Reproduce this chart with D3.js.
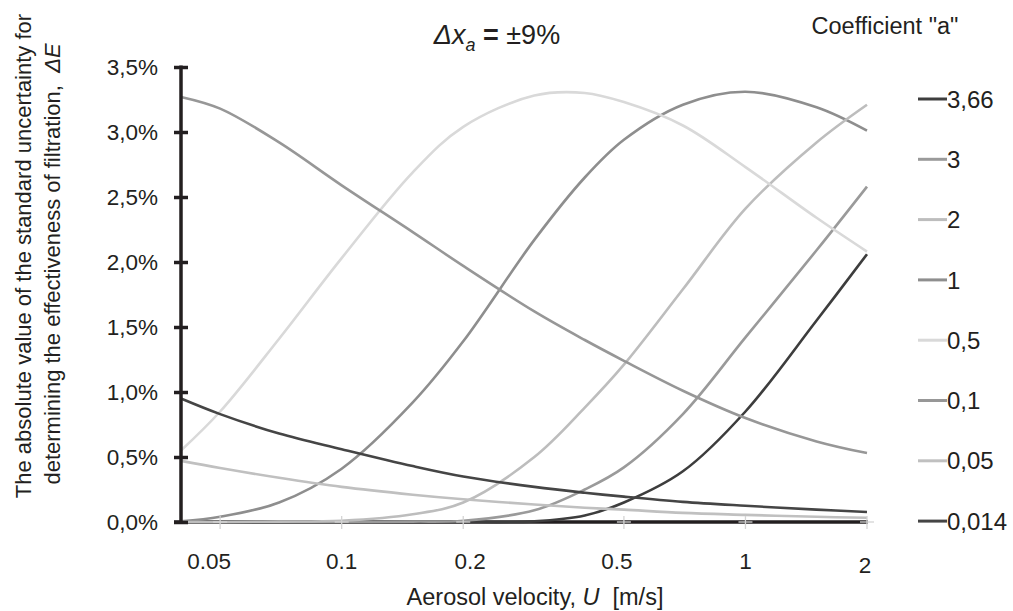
<!DOCTYPE html>
<html>
<head>
<meta charset="utf-8">
<script src="https://cdn.jsdelivr.net/npm/d3@7"></script>
<style>
  html, body { margin: 0; padding: 0; background: #fff; }
  svg { display: block; }
  text { font-family: "Liberation Sans", Arial, Helvetica, sans-serif; fill: #231f20; }
</style>
</head>
<body>
<svg id="chart" width="1013" height="611"></svg>
<script>
// ---- data ----
const velocity = [0.04, 0.05, 0.07, 0.1, 0.15, 0.2, 0.3, 0.4, 0.5, 0.7, 1, 1.5, 2];
const coefficients = ["3,66", "3", "2", "1", "0,5", "0,1", "0,05", "0,014"];
const a366  = [0, 0, 0, 0, 0, 0, 0.005, 0.05, 0.15, 0.39, 0.85, 1.55, 2.06];
const a3    = [0, 0, 0, 0, 0.003, 0.01, 0.09, 0.25, 0.42, 0.83, 1.42, 2.09, 2.58];
const a2    = [0, 0, 0.003, 0.01, 0.06, 0.15, 0.50, 0.88, 1.21, 1.79, 2.41, 2.92, 3.21];
const a1    = [0.005, 0.04, 0.15, 0.41, 0.92, 1.39, 2.17, 2.65, 2.94, 3.21, 3.31, 3.19, 3.01];
const a05   = [0.55, 0.85, 1.41, 2.03, 2.69, 3.04, 3.28, 3.30, 3.23, 3.05, 2.73, 2.34, 2.08];
const a01   = [3.27, 3.18, 2.92, 2.59, 2.23, 1.97, 1.62, 1.40, 1.24, 1.01, 0.80, 0.62, 0.53];
const a005  = [0.47, 0.415, 0.34, 0.27, 0.21, 0.175, 0.135, 0.11, 0.095, 0.07, 0.055, 0.04, 0.033];
const a0014 = [0.95, 0.83, 0.68, 0.56, 0.43, 0.35, 0.27, 0.225, 0.195, 0.155, 0.125, 0.095, 0.077];
const seriesValues = [a366, a3, a2, a1, a05, a01, a005, a0014];
const xTickValues = [0.05, 0.1, 0.2, 0.5, 1, 2];
const xTickLabels = ["0.05", "0.1", "0.2", "0.5", "1", "2"];
const yTickValues = [0, 0.5, 1, 1.5, 2, 2.5, 3, 3.5];

// ---- styles ----
const colors = ["#3d3d3d", "#9a9a9a", "#bdbdbd", "#8e8e8e", "#d9d9d9", "#979797", "#c0c0c0", "#454545"];
const drawOrder = [0, 1, 3, 2, 4, 5, 6, 7];
const axisColor = "#231f20";

const svg = d3.select("#chart");
const x = d3.scaleLog().domain([0.04, 2]).range([181, 867]);
const y = d3.scaleLinear().domain([0, 3.5]).range([522, 67]);

// x axis line (dark)
svg.append("line").attr("x1", 174).attr("x2", x(2) + 1).attr("y1", y(0)).attr("y2", y(0))
  .attr("stroke", axisColor).attr("stroke-width", 3.5);

// series
const line = d3.line().x(d => x(d[0])).y(d => Math.min(y(d[1]), y(0))).curve(d3.curveCatmullRom.alpha(0.5));
drawOrder.forEach(i => {
  const pts = velocity.map((u, k) => [u, seriesValues[i][k]]);
  svg.append("path").attr("d", line(pts)).attr("fill", "none")
    .attr("stroke", colors[i]).attr("stroke-width", 2.6).attr("stroke-linejoin", "round");
});

// x tick marks (light crosses)
const xt = svg.append("g");
xTickValues.forEach(v => {
  xt.append("line").attr("x1", x(v)).attr("x2", x(v)).attr("y1", y(0) - 6).attr("y2", y(0) + 7)
    .attr("stroke", "#d4d4d4").attr("stroke-width", 1.3);
  xt.append("line").attr("x1", x(v) - 7).attr("x2", x(v) + 7).attr("y1", y(0)).attr("y2", y(0))
    .attr("stroke", "#d4d4d4").attr("stroke-width", 1.3);
});

// y axis with crossing ticks
const yAxis = d3.axisLeft(y).tickValues(yTickValues).tickSize(0)
  .tickFormat(d => d3.format(".1f")(d).replace(".", ",") + "%");
const yg = svg.append("g").attr("transform", "translate(181,0)").call(yAxis);
yg.select(".domain").remove();
yg.selectAll(".tick text").attr("x", -23).attr("font-size", 22.5)
  .attr("font-family", "Liberation Sans, Arial, sans-serif").attr("fill", axisColor);
yg.selectAll(".tick").append("line").attr("x1", -7).attr("x2", 7)
  .attr("stroke", axisColor).attr("stroke-width", 3.5);
yg.append("line").attr("x1", 0).attr("x2", 0).attr("y1", y(3.5) - 1.5).attr("y2", y(0) + 1.5)
  .attr("stroke", axisColor).attr("stroke-width", 3.5);

// x tick labels
const labelNudge = { "0.05": -11, "0.2": 7, "0.5": -7, "2": -2 };
const labelDrop = { "2": 4 };
xTickValues.forEach((v, i) => {
  const lab = xTickLabels[i];
  svg.append("text").attr("x", x(v) + (labelNudge[lab] || 0)).attr("y", 569 + (labelDrop[lab] || 0))
    .attr("text-anchor", "middle").attr("font-size", 22.5).text(lab);
});

// x axis title
const xTitle = svg.append("text").attr("x", 535).attr("y", 605).attr("text-anchor", "middle").attr("font-size", 23.5);
xTitle.append("tspan").text("Aerosol velocity, ");
xTitle.append("tspan").attr("font-style", "italic").text("U");
xTitle.append("tspan").text("\u00a0 [m/s]");

// y axis title (two lines)
svg.append("text").attr("transform", "translate(31,256) rotate(-90)").attr("text-anchor", "middle")
  .attr("font-size", 22).text("The absolute value of the standard uncertainty for");
const yt2 = svg.append("text").attr("transform", "translate(60,264) rotate(-90)").attr("text-anchor", "middle")
  .attr("font-size", 22);
yt2.append("tspan").text("determining the effectiveness of filtration,\u00a0 ");
yt2.append("tspan").attr("font-style", "italic").text("\u0394E");

// chart title
const title = svg.append("text").attr("x", 497).attr("y", 44).attr("text-anchor", "middle").attr("font-size", 27);
title.append("tspan").attr("font-style", "italic").text("\u0394x");
title.append("tspan").attr("font-style", "italic").attr("font-size", 18).attr("dy", 7).text("a");
title.append("tspan").attr("dy", -7).text(" ");
title.append("tspan").attr("font-weight", "bold").text("=");
title.append("tspan").text(" \u00b19%");

// legend title
svg.append("text").attr("x", 885).attr("y", 34).attr("text-anchor", "middle").attr("font-size", 23.5)
  .text("Coefficient \"a\"");

// legend
const leg = svg.append("g");
coefficients.forEach((c, i) => {
  const ly = 99 + i * 60.3;
  leg.append("line").attr("x1", 918).attr("x2", 947).attr("y1", ly).attr("y2", ly)
    .attr("stroke", colors[i]).attr("stroke-width", 3);
  leg.append("text").attr("x", 947).attr("y", ly).attr("dy", "0.36em").attr("font-size", 24).text(c);
});
</script>
</body>
</html>
